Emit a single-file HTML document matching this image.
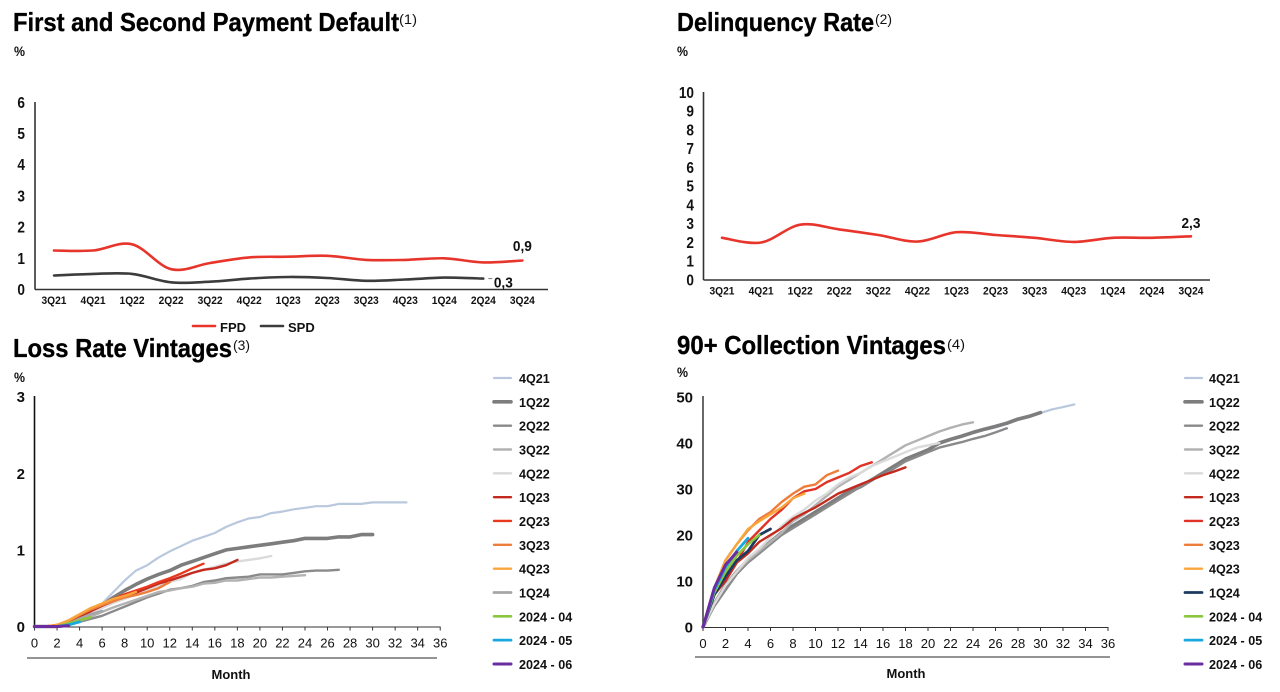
<!DOCTYPE html>
<html lang="en">
<head>
<meta charset="utf-8">
<title>Credit quality charts</title>
<style>
html,body{margin:0;padding:0;background:#fff;width:1280px;height:692px;overflow:hidden}
svg{display:block}
text{font-family:"Liberation Sans",sans-serif;fill:#111}
.title{font-size:26px;font-weight:700;stroke:#000;stroke-width:0.35px;fill:#000}
.sup{font-size:14px;font-weight:400}
.unit{font-size:14px;font-weight:700}
.month{font-size:13px;font-weight:700}
</style>
</head>
<body>
<svg id="page" xmlns="http://www.w3.org/2000/svg" width="1280" height="692" viewBox="0 0 1280 692">
  <text class="title" x="13" y="31" textLength="386" lengthAdjust="spacingAndGlyphs">First and Second Payment Default</text>
  <text class="sup" x="399" y="24" textLength="18" lengthAdjust="spacingAndGlyphs">(1)</text>
  <text class="unit" x="14" y="56" textLength="11" lengthAdjust="spacingAndGlyphs">%</text>

  <text class="title" x="677" y="31" textLength="197" lengthAdjust="spacingAndGlyphs">Delinquency Rate</text>
  <text class="sup" x="875" y="24" textLength="17" lengthAdjust="spacingAndGlyphs">(2)</text>
  <text class="unit" x="677" y="56" textLength="11" lengthAdjust="spacingAndGlyphs">%</text>

  <text class="title" x="13" y="357" textLength="219" lengthAdjust="spacingAndGlyphs">Loss Rate Vintages</text>
  <text class="sup" x="233" y="350" textLength="17" lengthAdjust="spacingAndGlyphs">(3)</text>
  <text class="unit" x="14" y="382" textLength="11" lengthAdjust="spacingAndGlyphs">%</text>

  <text class="title" x="677" y="354" textLength="269" lengthAdjust="spacingAndGlyphs">90+ Collection Vintages</text>
  <text class="sup" x="947" y="349" textLength="18" lengthAdjust="spacingAndGlyphs">(4)</text>
  <text class="unit" x="677" y="377" textLength="11" lengthAdjust="spacingAndGlyphs">%</text>

  <text class="month" x="231" y="679" text-anchor="middle">Month</text>
  <text class="month" x="906" y="678" text-anchor="middle">Month</text>
</svg>
<script>
var quarters = ['3Q21','4Q21','1Q22','2Q22','3Q22','4Q22','1Q23','2Q23','3Q23','4Q23','1Q24','2Q24','3Q24'];
var fpdValues = [1.25,1.25,1.45,0.65,0.85,1.03,1.05,1.08,0.95,0.95,1.0,0.87,0.93];
var spdValues = [0.45,0.5,0.5,0.23,0.25,0.35,0.4,0.37,0.28,0.32,0.38,0.35];
var delinquencyValues = [2.25,2.0,2.95,2.7,2.4,2.05,2.55,2.4,2.25,2.03,2.25,2.25,2.33];
var fpdTicks = [0,1,2,3,4,5,6];
var delinquencyTicks = [0,1,2,3,4,5,6,7,8,9,10];
var lossTicks = [0,1,2,3];
var collectionTicks = [0,10,20,30,40,50];
var monthTicks = [0,2,4,6,8,10,12,14,16,18,20,22,24,26,28,30,32,34,36];
var vintageNames = ['4Q21','1Q22','2Q22','3Q22','4Q22','1Q23','2Q23','3Q23','4Q23','1Q24','2024 - 04','2024 - 05','2024 - 06'];

var loss4Q21 = [0,0,0,0.03,0.1,0.2,0.3,0.45,0.6,0.73,0.8,0.9,0.98,1.05,1.12,1.17,1.22,1.3,1.36,1.41,1.43,1.48,1.5,1.53,1.55,1.57,1.57,1.6,1.6,1.6,1.62,1.62,1.62,1.62];
var loss1Q22 = [0,0,0,0.02,0.1,0.18,0.28,0.38,0.47,0.55,0.62,0.68,0.73,0.8,0.85,0.9,0.95,1.0,1.02,1.04,1.06,1.08,1.1,1.12,1.15,1.15,1.15,1.17,1.17,1.2,1.2];
var loss2Q22 = [0,0,0,0.02,0.06,0.1,0.14,0.2,0.26,0.32,0.38,0.43,0.48,0.5,0.53,0.58,0.6,0.63,0.64,0.65,0.68,0.68,0.68,0.7,0.72,0.73,0.73,0.74];
var loss3Q22 = [0,0,0,0.03,0.08,0.13,0.19,0.25,0.3,0.35,0.4,0.45,0.47,0.5,0.52,0.56,0.57,0.6,0.6,0.62,0.64,0.64,0.65,0.66,0.67];
var loss4Q22 = [0,0,0,0.02,0.1,0.17,0.24,0.31,0.36,0.42,0.47,0.53,0.58,0.62,0.7,0.74,0.78,0.82,0.85,0.87,0.89,0.92];
var loss1Q23 = [0,0,0.02,0.05,0.12,0.2,0.27,0.33,0.39,0.44,0.5,0.56,0.6,0.65,0.7,0.74,0.76,0.8,0.87];
var loss2Q23 = [0,0,0.02,0.06,0.15,0.24,0.29,0.36,0.42,0.47,0.52,0.58,0.63,0.69,0.76,0.82];
var loss3Q23 = [0,0,0.02,0.07,0.15,0.22,0.28,0.33,0.38,0.41,0.45,0.5,0.58];
var loss4Q23 = [0,0,0.02,0.08,0.16,0.24,0.3,0.36,0.4,0.45];
var loss1Q24 = [0,0,0,0.03,0.1,0.16,0.2];
var loss202404 = [0,0,0,0.04,0.08,0.12];
var loss202405 = [0,0,0,0.02,0.06];
var loss202406 = [0,0,0,0.01];

var coll4Q21 = [0,5,9,12,14.5,16.5,18.5,20.5,22,23.5,25,26.5,28,29.5,30.5,32,33.5,35,36.5,37.5,38.5,39.8,40.6,41.3,42.1,42.8,43.4,44.1,45,45.6,46.5,47.3,47.8,48.4];
var coll1Q22 = [0,5,9,12,14.5,16.5,18.5,20.5,22,23.5,25,26.5,28,29.5,30.5,32,33.5,35,36.5,37.5,38.5,40,40.8,41.5,42.3,43,43.6,44.3,45.2,45.8,46.6];
var coll2Q22 = [0,4.5,8,11.5,14,16,18,20,21.5,23,24.5,26,27.5,29,30.5,32,33,34.5,36,37,38,39,39.6,40.2,40.9,41.5,42.3,43.2];
var coll3Q22 = [0,5,9,12,14.5,16.5,18.5,20.5,23,24.5,26.5,28.5,30.5,32,33.5,35,36.5,38,39.5,40.5,41.5,42.5,43.3,44,44.5];
var coll4Q22 = [0,5,9,12,15,17,19.5,22,24,25.5,27.5,29,31,32.5,33.5,35,36,37,38,39,39.5,40];
var coll1Q23 = [0,7,10,14,16,18.5,20,21.5,23.5,24.8,26,27.5,29,30,31,32,33,33.8,34.7];
var coll2Q23 = [0,7,11,14,18.5,21,23.5,25.5,28,29.5,30,31.5,32.5,33.5,35,35.8];
var coll3Q23 = [0,8.5,14.5,18,21,23.5,25,27.2,29,30.5,31,33,34];
var coll4Q23 = [0,8.5,14.5,18,21.3,23,24.5,26,28,29];
var coll1Q24 = [0,7,11,14.5,16.5,20,21.3];
var coll202404 = [0,7.5,12,15.5,18,20];
var coll202405 = [0,8,13,16.5,19.3];
var coll202406 = [0,8.5,13.5,16.3];

var lossSeries = [loss4Q21,loss1Q22,loss2Q22,loss3Q22,loss4Q22,loss1Q23,loss2Q23,loss3Q23,loss4Q23,loss1Q24,loss202404,loss202405,loss202406];
var collSeries = [coll4Q21,coll1Q22,coll2Q22,coll3Q22,coll4Q22,coll1Q23,coll2Q23,coll3Q23,coll4Q23,coll1Q24,coll202404,coll202405,coll202406];
var lossColors = ['#b9c8dd','#7d7d7d','#8a8a8a','#b2b2b2','#dadada','#c22a1f','#e8391f','#ee7d3b','#f8a63c','#a6a6a6','#8cc63f','#1ba8de','#6a2c9e'];
var collColors = ['#b9c8dd','#7d7d7d','#8a8a8a','#b2b2b2','#dadada','#c22a1f','#e03226','#ee7d3b','#f8a63c','#1d3a60','#8cc63f','#1ba8de','#6a2c9e'];
var vintageWidths = [2.2,3.6,2.4,2.4,2.4,2.4,2.4,2.4,2.4,2.8,2.6,2.8,3];

var root = document.getElementById('page');
var NS = 'http://www.w3.org/2000/svg';

function make(tag, attrs, text) {
  var el = document.createElementNS(NS, tag);
  for (var k in attrs) { el.setAttribute(k, attrs[k]); }
  if (text !== undefined) { el.textContent = text; }
  root.appendChild(el);
  return el;
}
function linePath(pts) {
  return pts.map(function (p, i) { return (i ? 'L' : 'M') + p[0].toFixed(1) + ' ' + p[1].toFixed(1); }).join(' ');
}
function smoothPath(pts) {
  var d = 'M' + pts[0][0].toFixed(1) + ' ' + pts[0][1].toFixed(1);
  for (var i = 0; i < pts.length - 1; i++) {
    var p0 = pts[Math.max(i - 1, 0)], p1 = pts[i], p2 = pts[i + 1], p3 = pts[Math.min(i + 2, pts.length - 1)];
    d += ' C' + (p1[0] + (p2[0] - p0[0]) / 6).toFixed(1) + ' ' + (p1[1] + (p2[1] - p0[1]) / 6).toFixed(1) +
         ' ' + (p2[0] - (p3[0] - p1[0]) / 6).toFixed(1) + ' ' + (p2[1] - (p3[1] - p1[1]) / 6).toFixed(1) +
         ' ' + p2[0].toFixed(1) + ' ' + p2[1].toFixed(1);
  }
  return d;
}

/* ---------- quarterly charts ---------- */
function drawQuarterAxes(key, axisX, axisRight, y0, yTop, ticks, xFn, yFn, labelX) {
  var yAxis = make('line', {x1: axisX, x2: axisX, y1: yTop, y2: y0, stroke: '#333', 'stroke-width': 1.6});
  
  
  var xAxis = make('line', {x1: axisX, x2: axisRight, y1: y0, y2: y0, stroke: '#333', 'stroke-width': 1.6});
  
  
  ticks.forEach(function (t) {
    var lab = make('text', {x: labelX, y: yFn(t) + 5.5, 'text-anchor': 'end', 'font-size': 15.5, 'font-weight': 700, transform: 'translate(' + labelX + ' 0) scale(0.88 1) translate(' + (-labelX) + ' 0)'}, String(t));
    
    
  });
  quarters.forEach(function (q, i) {
    var cx = xFn(i);
    var lab = make('text', {x: cx, y: y0 + 14.5, 'text-anchor': 'middle', 'font-size': 11, 'font-weight': 700, transform: 'translate(' + cx + ' 0) scale(0.93 1) translate(' + (-cx) + ' 0)'}, q);
    
    
  });
}
function xFpd(i) { return 54 + i * 39.03; }
function yFpd(v) { return 289.5 - v * 31.2; }
function xDel(i) { return 722 + i * 39.08; }
function yDel(v) { return 280 - v * 18.75; }

drawQuarterAxes('fpd-spd', 35, 548, 289.5, 102, fpdTicks, xFpd, yFpd, 25);
drawQuarterAxes('delinquency', 703.5, 1210, 280, 92, delinquencyTicks, xDel, yDel, 694);

var fpdLine = make('path', {d: smoothPath(fpdValues.map(function (v, i) { return [xFpd(i), yFpd(v)]; })), fill: 'none', stroke: '#e7352b', 'stroke-width': 2.6, 'stroke-linecap': 'round'});


var spdLine = make('path', {d: smoothPath(spdValues.map(function (v, i) { return [xFpd(i), yFpd(v)]; })), fill: 'none', stroke: '#3c3c3e', 'stroke-width': 2.6, 'stroke-linecap': 'round'});


var delLine = make('path', {d: smoothPath(delinquencyValues.map(function (v, i) { return [xDel(i), yDel(v)]; })), fill: 'none', stroke: '#e7352b', 'stroke-width': 2.6, 'stroke-linecap': 'round'});



var fpdEnd = make('text', {x: xFpd(12), y: yFpd(fpdValues[12]) - 9.5, 'text-anchor': 'middle', 'font-size': 14.5, 'font-weight': 700, textLength: 19, lengthAdjust: 'spacingAndGlyphs'}, '0,9');


var spdEnd = make('text', {x: xFpd(11) + 20, y: yFpd(spdValues[11]) + 9, 'text-anchor': 'middle', 'font-size': 14.5, 'font-weight': 700, textLength: 19, lengthAdjust: 'spacingAndGlyphs'}, '0,3');


var spdLeader = make('line', {x1: xFpd(11) + 5, x2: xFpd(11) + 9, y1: yFpd(spdValues[11]), y2: yFpd(spdValues[11]), stroke: '#777', 'stroke-width': 1});


var delEnd = make('text', {x: xDel(12), y: yDel(delinquencyValues[12]) - 8.5, 'text-anchor': 'middle', 'font-size': 14.5, 'font-weight': 700, textLength: 19, lengthAdjust: 'spacingAndGlyphs'}, '2,3');



[['FPD', 193, '#e7352b'], ['SPD', 261, '#3c3c3e']].forEach(function (e) {
  var sw = make('line', {x1: e[1], x2: e[1] + 22, y1: 326, y2: 326, stroke: e[2], 'stroke-width': 2.6, 'stroke-linecap': 'round'});
  
  
  var lb = make('text', {x: e[1] + 27, y: 332, 'font-size': 13, 'font-weight': 700}, e[0]);
  
  
});

/* ---------- vintage charts ---------- */
function drawVintage(key, x0, xStep, y0, yStep, yTop, ticks, series, colors, underL, underR, underY, labelX, legendLine, legendText) {
  function xM(m) { return x0 + m * xStep; }
  function yV(v) { return y0 - v * yStep; }
  var yAxis = make('line', {x1: x0, x2: x0, y1: yTop, y2: y0, stroke: key === 'loss-rate' ? '#111' : '#444', 'stroke-width': 1.6});
  
  
  var xAxis = make('line', {x1: x0, x2: xM(36), y1: y0 + 0.5, y2: y0 + 0.5, stroke: '#333', 'stroke-width': 1});
  
  
  monthTicks.forEach(function (m) {
    var tk = make('line', {x1: xM(m), x2: xM(m), y1: y0, y2: y0 + 4, stroke: '#333', 'stroke-width': 1});
    
    
    var lab = make('text', {x: xM(m), y: y0 + 21, 'text-anchor': 'middle', 'font-size': 13, fill: '#333'}, String(m));
    
    
  });
  ticks.forEach(function (t) {
    var lab = make('text', {x: labelX, y: yV(t) + 5.5, 'text-anchor': 'end', 'font-size': 15, 'font-weight': 700}, String(t));
    
    
  });
  var under = make('line', {x1: underL, x2: underR, y1: underY, y2: underY, stroke: '#555', 'stroke-width': 1.2});
  
  
  series.forEach(function (vals, s) {
    var pts = vals.map(function (v, m) { return [xM(m), yV(v)]; });
    var line = make('path', {d: linePath(pts), fill: 'none', stroke: colors[s], 'stroke-width': vintageWidths[s], 'stroke-linejoin': 'round', 'stroke-linecap': 'round'});
    
    
  });
  vintageNames.forEach(function (n, s) {
    var ly = 378.5 + s * 23.83;
    var sw = make('line', {x1: legendLine, x2: legendLine + 17, y1: ly - 0.5, y2: ly - 0.5, stroke: colors[s], 'stroke-width': vintageWidths[s], 'stroke-linecap': 'round'});
    
    
    var lb = make('text', {x: legendText, y: ly + 4.5, 'font-size': 12.6, 'font-weight': 700}, n);
    
    
  });
}
drawVintage('loss-rate', 34.5, 11.27, 626.5, 76.6, 396, lossTicks, lossSeries, lossColors, 27, 437, 658, 25, 494, 519);
drawVintage('collection', 703, 11.25, 627, 4.6, 396, collectionTicks, collSeries, collColors, 695, 1110, 657, 693, 1185, 1209);
</script>
</body>
</html>
